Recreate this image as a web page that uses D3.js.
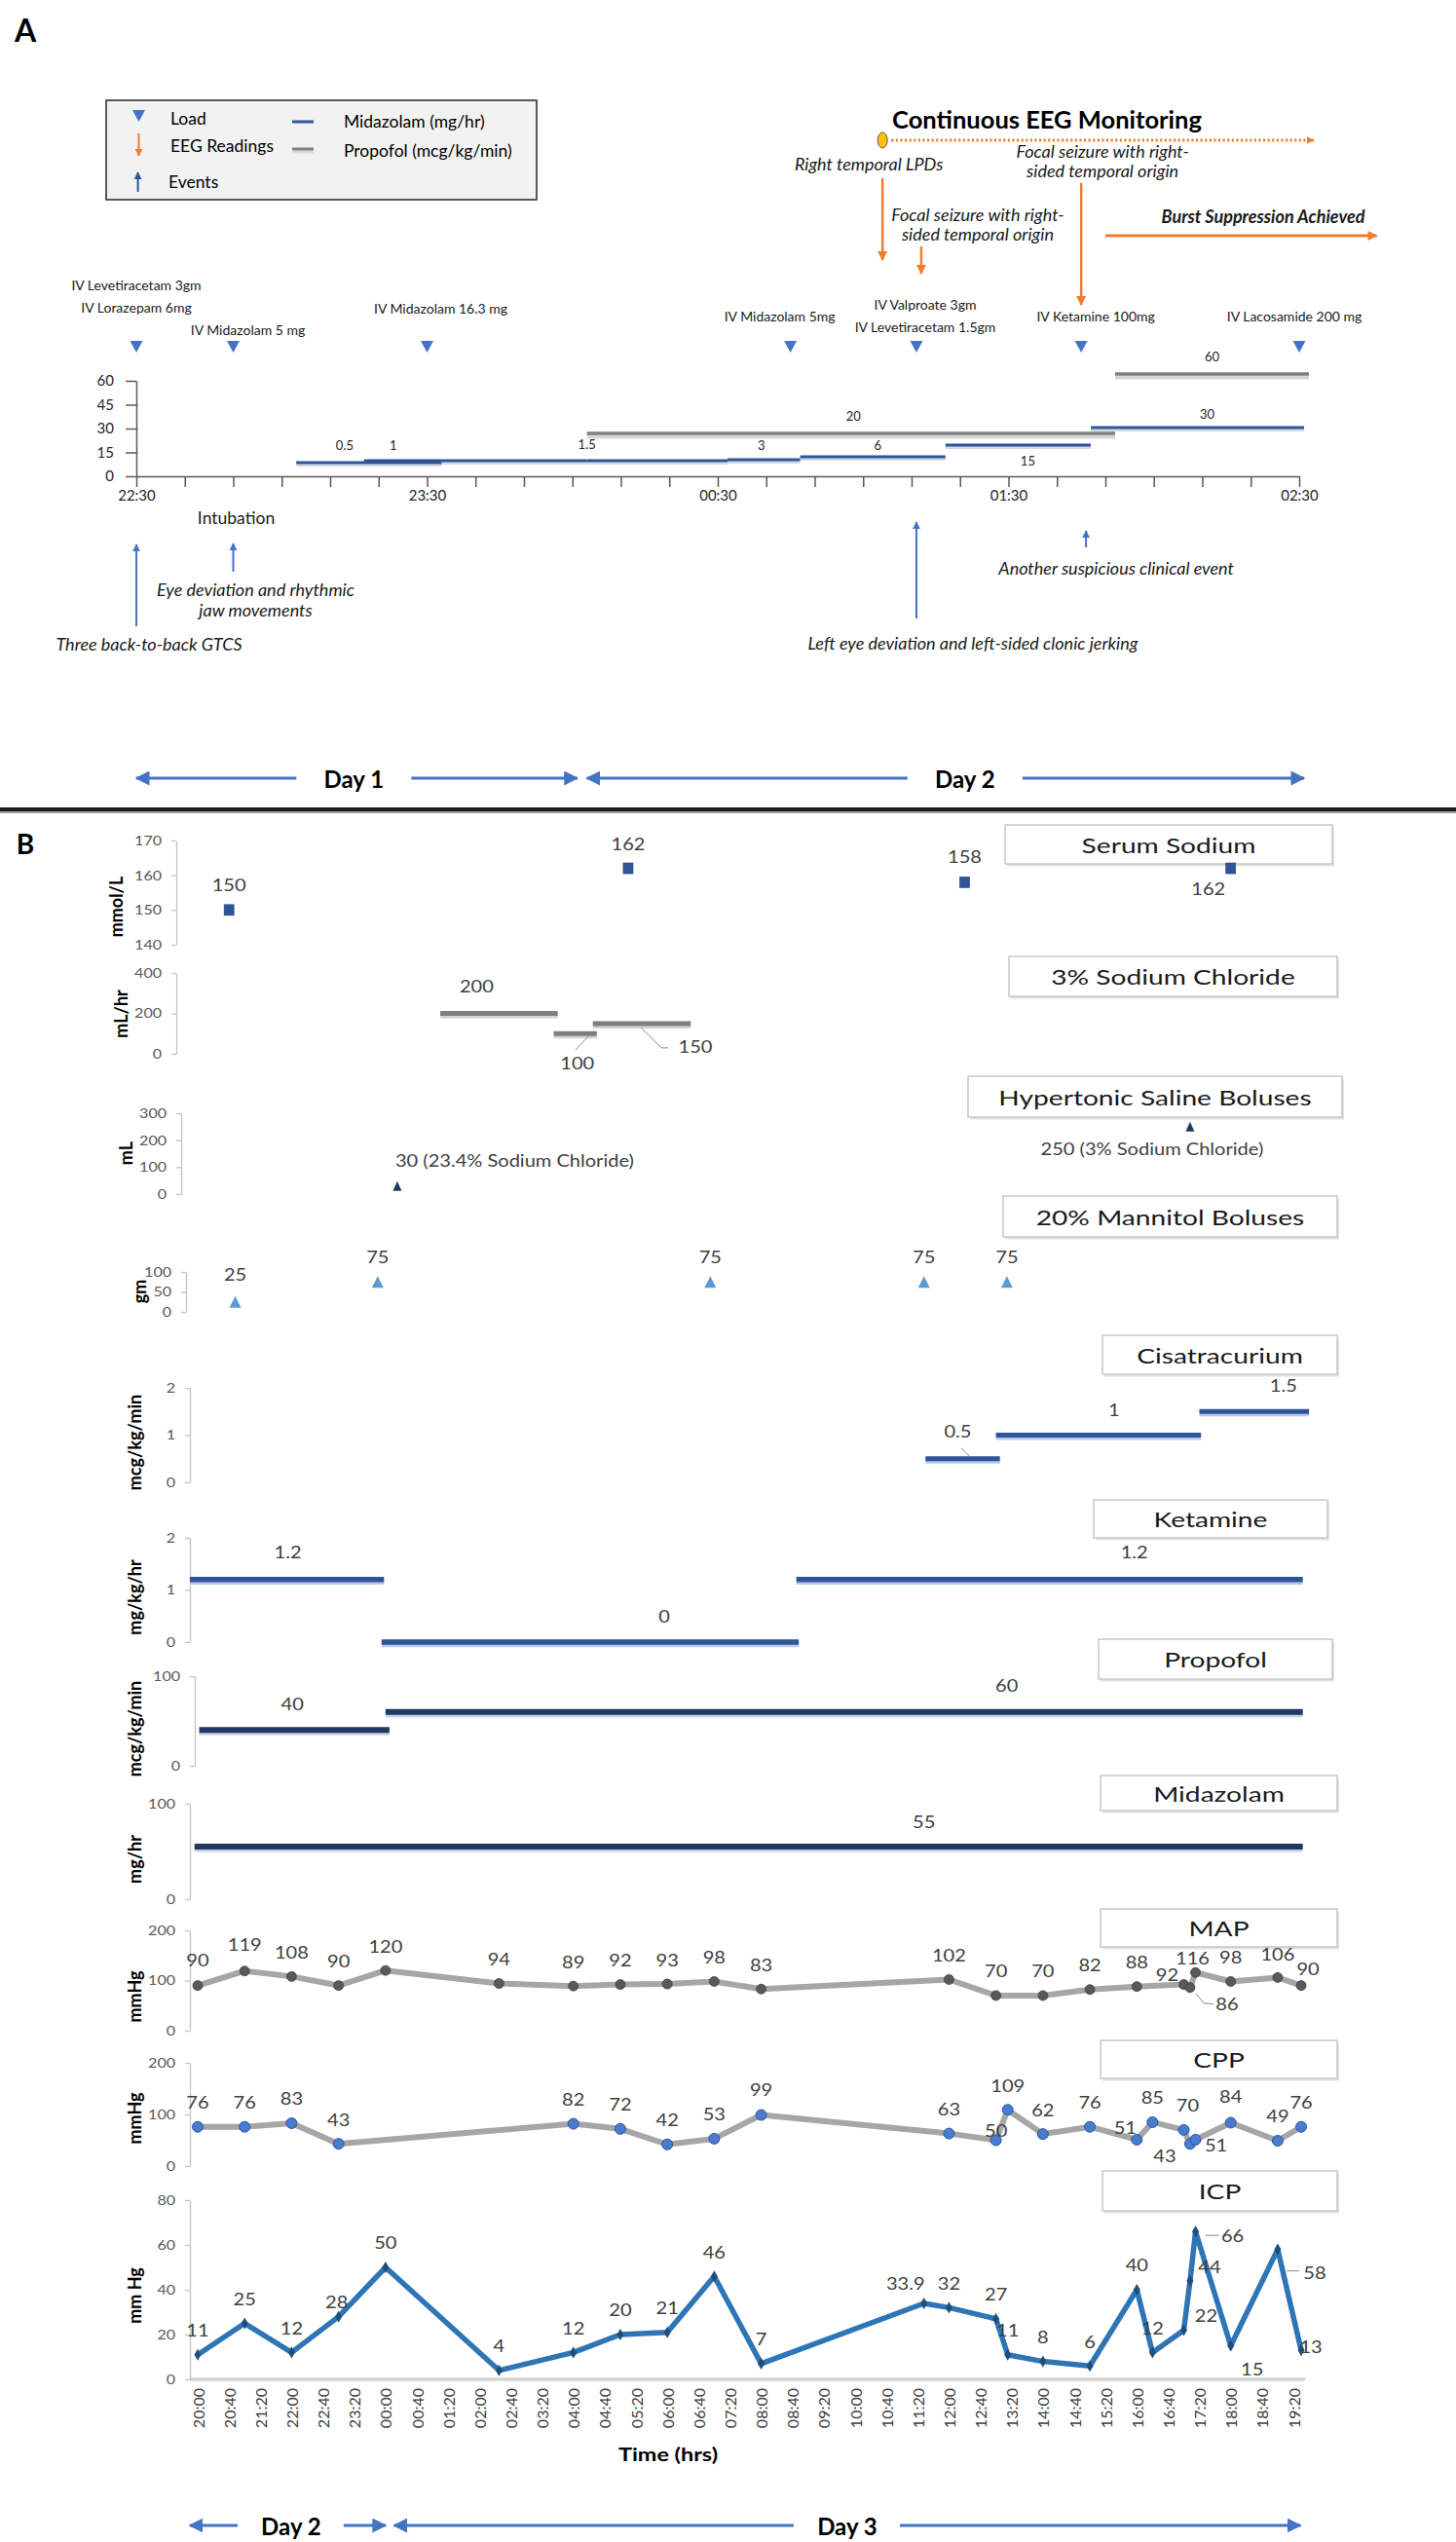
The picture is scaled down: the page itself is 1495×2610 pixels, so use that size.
<!DOCTYPE html>
<html>
<head>
<meta charset="utf-8">
<script src="https://cdn.jsdelivr.net/npm/d3@7/dist/d3.min.js"></script>
<style>
html,body{margin:0;padding:0;background:#fff;}
svg{display:block;}
</style>
</head>
<body>
<script>
// ================= PANEL A DATA =================
const axisALabels = ["22:30","23:30","00:30","01:30","02:30"];
const axisAYTicks = [0,15,30,45,60];

const loadTimes  = ["1 22:30","1 22:50","1 23:30","2 00:45","2 01:11","2 01:45","2 02:30"];
const loadLabels = [["IV Levetiracetam 3gm","IV Lorazepam 6mg"],["IV Midazolam 5 mg"],["IV Midazolam 16.3 mg"],
                    ["IV Midazolam 5mg"],["IV Valproate 3gm","IV Levetiracetam 1.5gm"],["IV Ketamine 100mg"],["IV Lacosamide 200 mg"]];

const midazAStart = ["1 23:03","1 23:17","2 00:03","2 00:32","2 00:47","2 01:17","2 01:47"];
const midazAEnd   = ["1 23:33","2 00:03","2 00:32","2 00:47","2 01:17","2 01:47","2 02:31"];
const midazARate  = [0.5,1,1.5,3,6,15,30];
const midazALevel = [8.6,9.8,9.8,10.4,12.2,19.6,30.6];   // plotted height read on the 0-60 axis

const propAStart = ["2 00:03","2 01:52"];
const propAEnd   = ["2 01:52","2 02:32"];
const propARate  = [20,60];
const propALevel = [26.9,64.3];

const eegStart = "2 01:04";
const eegEnd   = "2 02:33";
const eegTimes = ["2 01:04","2 01:12","2 01:45"];
const eegTexts = [["Right temporal LPDs"],["Focal seizure with right-","sided temporal origin"],["Focal seizure with right-","sided temporal origin"]];
const burstStart = "2 01:50", burstEnd = "2 02:46";

const eventTimes = ["1 22:30","1 22:50","2 01:11","2 01:46"];
const eventTexts = [["Three back-to-back GTCS"],["Eye deviation and rhythmic","jaw movements"],
                    ["Left eye deviation and left-sided clonic jerking"],["Another suspicious clinical event"]];
const intubationTime = "1 22:50";

const daysA = ["Day 1","Day 2"];
const daysAStart = ["1 22:30","2 00:03"];
const daysAEnd   = ["2 00:01","2 02:31"];

// ================= PANEL B DATA =================
const axisBLabels = ["20:00","20:40","21:20","22:00","22:40","23:20","00:00","00:40","01:20","02:00","02:40","03:20",
  "04:00","04:40","05:20","06:00","06:40","07:20","08:00","08:40","09:20","10:00","10:40","11:20","12:00","12:40",
  "13:20","14:00","14:40","15:20","16:00","16:40","17:20","18:00","18:40","19:20"];

const panelNames = ["Serum Sodium","3% Sodium Chloride","Hypertonic Saline Boluses","20% Mannitol Boluses",
                    "Cisatracurium","Ketamine","Propofol","Midazolam","MAP","CPP","ICP"];
const panelUnits = ["mmol/L","mL/hr","mL","gm","mcg/kg/min","mg/kg/hr","mcg/kg/min","mg/hr","mmHg","mmHg","mm Hg"];

const sodiumTimes  = ["2 20:40","3 05:10","3 12:20","3 18:00"];
const sodiumValues = [150,162,158,162];

const naclStart  = ["3 01:10","3 03:35","3 04:25"];
const naclEnd    = ["3 03:40","3 04:30","3 06:30"];
const naclValues = [200,100,150];

const hyperTimes  = ["3 00:15","3 17:08"];
const hyperValues = [30,250];
const hyperLabels = ["30 (23.4% Sodium Chloride)","250 (3% Sodium Chloride)"];

const mannitolTimes  = ["2 20:48","2 23:50","3 06:55","3 11:28","3 13:14"];
const mannitolValues = [25,75,75,75,75];

const cisStart  = ["3 11:30","3 13:00","3 17:20"];
const cisEnd    = ["3 13:05","3 17:22","3 19:40"];
const cisValues = [0.5,1,1.5];

const ketStart  = ["2 19:50","2 23:55","3 08:45"];
const ketEnd    = ["2 23:58","3 08:48","3 19:32"];
const ketValues = [1.2,0,1.2];

const propBStart  = ["2 20:02","3 00:00"];
const propBEnd    = ["3 00:05","3 19:32"];
const propBValues = [40,60];

const midBStart  = ["2 19:56"];
const midBEnd    = ["3 19:32"];
const midBValues = [55];

const mapTimes = ["2 20:00","2 21:00","2 22:00","2 23:00","3 00:00","3 02:25","3 04:00","3 05:00","3 06:00","3 07:00",
  "3 08:00","3 12:00","3 13:00","3 14:00","3 15:00","3 16:00","3 17:00","3 17:08","3 17:15","3 18:00","3 19:00","3 19:30"];
const mapValues = [90,119,108,90,120,94,89,92,93,98,83,102,70,70,82,88,92,86,116,98,106,90];

const cppTimes = ["2 20:00","2 21:00","2 22:00","2 23:00","3 04:00","3 05:00","3 06:00","3 07:00","3 08:00","3 12:00",
  "3 13:00","3 13:15","3 14:00","3 15:00","3 16:00","3 16:20","3 17:00","3 17:08","3 17:15","3 18:00","3 19:00","3 19:30"];
const cppValues = [76,76,83,43,82,72,42,53,99,63,50,109,62,76,51,85,70,43,51,84,49,76];

const icpTimes = ["2 20:00","2 21:00","2 22:00","2 23:00","3 00:00","3 02:25","3 04:00","3 05:00","3 06:00","3 07:00",
  "3 08:00","3 11:28","3 12:00","3 13:00","3 13:15","3 14:00","3 15:00","3 16:00","3 16:20","3 17:00","3 17:08",
  "3 17:15","3 18:00","3 19:00","3 19:30"];
const icpValues = [11,25,12,28,50,4,12,20,21,46,7,33.9,32,27,11,8,6,40,12,22,44,66,15,58,13];

const daysB = ["Day 2","Day 3"];
const daysBStart = ["2 19:50","3 00:11"];
const daysBEnd   = ["3 00:00","3 19:29"];

// ================= LAYOUT (not data) =================
const FONT = "Lato, 'Open Sans', 'DejaVu Sans', sans-serif";
const SXB = 1.28, SXD = 1.18;   // horizontal stretch of panel B text (figure is widened)

const loadLabelDx   = [0,15,14,-11,9,15,-5];
const loadLabelBase = [[298,321],[344],[322],[330],[318,341],[330],[330]];
const midazALabelAt = ["1 23:13","1 23:23","2 00:03","2 00:39","2 01:03","2 01:34","2 02:11"];
const midazALabelDy = [-18,-16,-17,-15,-12,16,-14];
const propALabelAt  = ["2 00:58","2 02:12"];
const propALabelDy  = [-18,-18];
const eegArrowY     = [[183,267],[253,281],[188,313]];
const eegLabelDx    = [-14,58,22];
const eegLabelBase  = [[175],[227,247],[162,182]];
const eventArrowY   = [[643,559],[587,558],[635,536],[562,545]];
const eventLabelDx  = [13,23,58,31];
const eventLabelBase= [[668],[612,633],[667],[590]];

const boxes = [[1032,847,1368,887],[1036,982,1373,1023],[994,1105,1378,1147],[1030,1228,1373,1270],
  [1132,1371,1373,1411],[1123,1540,1363,1579],[1128,1683,1368,1724],[1130,1823,1373,1859],
  [1130,1960,1373,1999],[1130,2095,1373,2134],[1132,2229,1373,2270]];
const unitPos = [[119,931],[124,1041],[129,1184],[143,1326],[138,1481],[138,1640],[138,1775],[138,1909],[138,2050],[138,2175],[138,2357]];

// ================= HELPERS =================
function tA(s){ const [d,hm]=s.split(' '); const [h,m]=hm.split(':').map(Number); return (+d-1)*1440+h*60+m-(22*60+30); }
function tB(s){ const [d,hm]=s.split(' '); const [h,m]=hm.split(':').map(Number); return (+d-2)*1440+h*60+m-(20*60); }

const svg = d3.select('body').append('svg').attr('width',1495).attr('height',2610).attr('font-family',FONT);
const defs = svg.append('defs');
function marker(id,color,len,wid){
  defs.append('marker').attr('id',id).attr('viewBox','0 0 10 10').attr('refX',9).attr('refY',5)
    .attr('markerWidth',len).attr('markerHeight',wid).attr('markerUnits','userSpaceOnUse')
    .attr('orient','auto-start-reverse')
    .append('path').attr('d','M0,0L10,5L0,10Z').attr('fill',color);
}
marker('aOr','#ed7d31',11,10);
marker('aOrS','#ed7d31',8,8);
marker('aBl','#4472c4',8,9);
marker('aNv','#2f5597',8,9);
marker('aDay','#4472c4',15,15);

function txt(g,x,y,s,o={}){
  let tr=`translate(${x},${y})`;
  if(o.sx) tr+=` scale(${o.sx},1)`;
  if(o.rot) tr+=` rotate(${o.rot})`;
  return g.append('text').attr('transform',tr)
    .attr('text-anchor',o.anchor||'middle')
    .attr('dominant-baseline',o.base||'central')
    .style('font-size',(o.size||15)+'px')
    .style('font-weight',o.weight||'normal')
    .style('font-style',o.style||'normal')
    .attr('fill',o.fill||'#000')
    .text(s);
}
function line(g,x1,y1,x2,y2,stroke,w){
  return g.append('line').attr('x1',x1).attr('y1',y1).attr('x2',x2).attr('y2',y2)
    .attr('stroke',stroke).attr('stroke-width',w);
}
const triDown=(x,y,w,h)=>`M${x-w/2},${y-h/2}L${x+w/2},${y-h/2}L${x},${y+h/2}Z`;
const triUp  =(x,y,w,h)=>`M${x-w/2},${y+h/2}L${x+w/2},${y+h/2}L${x},${y-h/2}Z`;

// ================= PANEL A =================
const xA = d3.scaleLinear().domain([0,240]).range([140,1334]);
const yA = d3.scaleLinear().domain([0,60]).range([489,391]);
const gA = svg.append('g');

txt(gA,26,30,'A',{size:32,weight:'bold'});

// legend
gA.append('rect').attr('x',109).attr('y',103).attr('width',442).attr('height',102)
  .attr('fill','#f2f2f2').attr('stroke','#262626').attr('stroke-width',1.5);
gA.append('path').attr('d',triDown(142.5,119,13,12)).attr('fill','#4472c4');
txt(gA,175,121,'Load',{anchor:'start',size:17.5});
line(gA,142.5,137,142.5,160,'#ed7d31',2).attr('marker-end','url(#aOrS)');
txt(gA,175,149,'EEG Readings',{anchor:'start',size:17.5});
line(gA,141.6,197,141.6,177,'#2f5597',2).attr('marker-end','url(#aNv)');
txt(gA,173,186,'Events',{anchor:'start',size:17.5});
line(gA,300,125,322,125,'#2f5597',3);
txt(gA,353,124,'Midazolam (mg/hr)',{anchor:'start',size:17.5});
line(gA,300,156,322,156,'#dadada',3);
line(gA,300,153,322,153,'#808080',3);
txt(gA,353,154,'Propofol (mcg/kg/min)',{anchor:'start',size:17.5});

// axes
const axX = gA.append('g').attr('transform','translate(0,489)')
  .call(d3.axisBottom(xA).tickValues(d3.range(0,241,10)).tickSize(11).tickSizeOuter(0).tickPadding(3)
    .tickFormat(m => m%60===0 ? axisALabels[m/60] : ''));
const axY = gA.append('g').attr('transform','translate(140,0)')
  .call(d3.axisLeft(yA).tickValues(axisAYTicks).tickSize(11).tickSizeOuter(0).tickPadding(12));
[axX,axY].forEach(a=>{
  a.attr('font-family',FONT);
  a.selectAll('path,line').attr('stroke','#595959').attr('stroke-width',1.5);
  a.selectAll('text').attr('fill','#262626').style('font-size','15px');
});

// infusion segments
const midA = midazARate.map((r,i)=>({x1:xA(tA(midazAStart[i])),x2:xA(tA(midazAEnd[i])),y:yA(midazALevel[i]),r,
  lx:xA(tA(midazALabelAt[i])),dy:midazALabelDy[i]}));
const propA = propARate.map((r,i)=>({x1:xA(tA(propAStart[i])),x2:xA(tA(propAEnd[i])),y:yA(propALevel[i]),r,
  lx:xA(tA(propALabelAt[i])),dy:propALabelDy[i]}));
gA.selectAll('.pAsh').data(propA).join('line').attr('x1',d=>d.x1).attr('x2',d=>d.x2)
  .attr('y1',d=>d.y+3.5).attr('y2',d=>d.y+3.5).attr('stroke','#d6d6d6').attr('stroke-width',4);
gA.selectAll('.pA').data(propA).join('line').attr('x1',d=>d.x1).attr('x2',d=>d.x2)
  .attr('y1',d=>d.y).attr('y2',d=>d.y).attr('stroke','#7f7f7f').attr('stroke-width',3.5);
gA.selectAll('.mAsh').data(midA).join('line').attr('x1',d=>d.x1).attr('x2',d=>d.x2)
  .attr('y1',d=>d.y+2.5).attr('y2',d=>d.y+2.5).attr('stroke','#d3d9e4').attr('stroke-width',3);
gA.selectAll('.mA').data(midA).join('line').attr('x1',d=>d.x1).attr('x2',d=>d.x2)
  .attr('y1',d=>d.y).attr('y2',d=>d.y).attr('stroke','#2f5597').attr('stroke-width',3);
midA.concat(propA).forEach(d=>txt(gA,d.lx,d.y+d.dy,String(d.r),{size:13,fill:'#262626'}));

// loads
loadTimes.forEach((t,i)=>{
  const x=xA(tA(t));
  gA.append('path').attr('d',triDown(x,356,13,12)).attr('fill','#4472c4');
  loadLabels[i].forEach((s,j)=>txt(gA,x+loadLabelDx[i],loadLabelBase[i][j],s,{size:14,base:'alphabetic',fill:'#1a1a1a'}));
});

// EEG monitoring
const eX1=xA(tA(eegStart)), eX2=xA(tA(eegEnd));
line(gA,eX1+9,144,eX2,144,'#ed7d31',3).attr('stroke-dasharray','2.2,2.4').attr('marker-end','url(#aOrS)');
gA.append('ellipse').attr('cx',eX1).attr('cy',144).attr('rx',5).attr('ry',8).attr('fill','#ffc000').attr('stroke','#5a5a5a').attr('stroke-width',1);
txt(gA,1075,132,'Continuous EEG Monitoring',{size:25.5,weight:'bold',base:'alphabetic'});
eegTimes.forEach((t,i)=>{
  const x=xA(tA(t));
  line(gA,x,eegArrowY[i][0],x,eegArrowY[i][1],'#ed7d31',2.5).attr('marker-end','url(#aOr)');
  eegTexts[i].forEach((s,j)=>txt(gA,x+eegLabelDx[i],eegLabelBase[i][j],s,{size:18,style:'italic',base:'alphabetic',fill:'#1a1a1a'}));
});
line(gA,xA(tA(burstStart)),242,xA(tA(burstEnd)),242,'#ed7d31',3).attr('marker-end','url(#aOr)');
txt(gA,1297,229,'Burst Suppression Achieved',{size:18,weight:'bold',style:'italic',base:'alphabetic',fill:'#1a1a1a'});

// events
eventTimes.forEach((t,i)=>{
  const x=xA(tA(t));
  line(gA,x,eventArrowY[i][0],x,eventArrowY[i][1],'#4472c4',2).attr('marker-end','url(#aBl)');
  eventTexts[i].forEach((s,j)=>txt(gA,x+eventLabelDx[i],eventLabelBase[i][j],s,{size:18,style:'italic',base:'alphabetic',fill:'#1a1a1a'}));
});
txt(gA,xA(tA(intubationTime))+3,538,'Intubation',{size:17.5,base:'alphabetic',fill:'#1a1a1a'});

// day arrows
function dayArrow(g,x1,x2,y,c,label,gl,gr){
  line(g,x1,y,c-gl,y,'#4472c4',3).attr('marker-start','url(#aDay)');
  line(g,c+gr,y,x2,y,'#4472c4',3).attr('marker-end','url(#aDay)');
  txt(g,c,y,label,{size:24,weight:'bold'});
}
const dayADx=[-3,20];
daysA.forEach((d,i)=>{
  const x1=xA(tA(daysAStart[i])), x2=xA(tA(daysAEnd[i]));
  dayArrow(gA,x1,x2,799,(x1+x2)/2+dayADx[i],d,59,59);
});

// separator
line(svg,0,834,1495,834,'#9c9c9c',2);
line(svg,0,831,1495,831,'#1c1c1c',4);

// ================= PANEL B =================
const xB = d3.scaleLinear().domain([0,1400]).range([203,1328]);
const gB = svg.append('g');
txt(gB,26,866,'B',{size:28,weight:'bold'});

const yS = [
  d3.scaleLinear().domain([140,170]).range([970,863]),
  d3.scaleLinear().domain([0,400]).range([1082,999]),
  d3.scaleLinear().domain([0,300]).range([1226,1143]),
  d3.scaleLinear().domain([0,100]).range([1347,1306]),
  d3.scaleLinear().domain([0,2]).range([1522,1425]),
  d3.scaleLinear().domain([0,2]).range([1686,1579]),
  d3.scaleLinear().domain([0,100]).range([1813,1721]),
  d3.scaleLinear().domain([0,100]).range([1950,1852]),
  d3.scaleLinear().domain([0,200]).range([2085,1982]),
  d3.scaleLinear().domain([0,200]).range([2224,2118]),
  d3.scaleLinear().domain([0,80]).range([2443,2259])
];
const yTicks = [[140,150,160,170],[0,200,400],[0,100,200,300],[0,50,100],[0,1,2],[0,1,2],[0,100],[0,100],[0,100,200],[0,100,200],[0,20,40,60,80]];
const axisXs = [181,181,186,191,195,195,200,195,195,195,195];

// x axis (bottom)
line(gB,195,2443,1340,2443,'#d4d4d4',3.5);
axisBLabels.forEach((s,i)=>{
  txt(gB,xB(i*40),2452,s,{size:16,rot:-90,anchor:'end',fill:'#404040'});
});
txt(gB,686,2520,'Time (hrs)',{size:18,weight:'bold',sx:1.3});

// y axes, unit labels, title boxes
yS.forEach((sc,i)=>{
  const a = gB.append('g').attr('transform',`translate(${axisXs[i]},0)`)
    .call(d3.axisLeft(sc).tickValues(yTicks[i]).tickSize(5).tickSizeOuter(0).tickPadding(8).tickFormat(d=>String(d)));
  a.attr('font-family',FONT);
  a.select('.domain').attr('stroke','#c4c4c4').attr('stroke-width',1.3);
  a.selectAll('.tick line').attr('stroke','#c4c4c4').attr('stroke-width',1.3);
  a.selectAll('.tick text').attr('fill','#595959').style('font-size','14px').attr('transform','scale(1.15,1)');
  txt(gB,unitPos[i][0],unitPos[i][1],panelUnits[i],{size:18,weight:'bold',rot:-90});
  const b=boxes[i];
  gB.append('rect').attr('x',b[0]+2).attr('y',b[1]+2.5).attr('width',b[2]-b[0]).attr('height',b[3]-b[1]).attr('fill','#e3e3e3');
  gB.append('rect').attr('x',b[0]).attr('y',b[1]).attr('width',b[2]-b[0]).attr('height',b[3]-b[1])
    .attr('fill','#fff').attr('stroke','#c8c8c8').attr('stroke-width',1.5);
  txt(gB,(b[0]+b[2])/2,(b[1]+b[3])/2,panelNames[i],{size:22,sx:SXB,fill:'#1a1a1a'});
});

function dlabel(x,y,s,o={}){ return txt(gB,x,y,s,Object.assign({size:17,sx:SXD,fill:'#404040'},o)); }
function leader(x,y,pts){
  gB.append('path').attr('d',d3.line()(pts.map(p=>[x+p[0],y+p[1]]))).attr('fill','none').attr('stroke','#8c8c8c').attr('stroke-width',1);
}

// Serum sodium
const sodiumLay=[[0,-26],[0,-25],[0,-26],[-23,21]];
sodiumTimes.forEach((t,i)=>{
  const x=xB(tB(t)), y=yS[0](sodiumValues[i]);
  gB.append('rect').attr('x',x-5).attr('y',y-5.5).attr('width',10).attr('height',11).attr('fill','#2f5597').attr('stroke','#1f3d7a').attr('stroke-width',0.6);
  dlabel(x+sodiumLay[i][0],y+sodiumLay[i][1],String(sodiumValues[i]));
});

// generic segment drawer
function segs(starts,ends,vals,sc,color,w,under){
  return vals.map((v,i)=>{
    const x1=xB(tB(starts[i])), x2=xB(tB(ends[i])), y=sc(v);
    line(gB,x1,y+1.5,x2,y+1.5,under,w+2);
    line(gB,x1,y,x2,y,color,w);
    return {x1,x2,y,mid:(x1+x2)/2,v};
  });
}

// 3% NaCl
const naclLay=[[-23,-28],[2,30],[55,24]];
const naclLead={1:[[14,2],[0,17]],2:[[-1,4],[20,25],[27,25]]};
segs(naclStart,naclEnd,naclValues,yS[1],'#7f7f7f',5,'#d2d2d2').forEach((d,i)=>{
  dlabel(d.mid+naclLay[i][0],d.y+naclLay[i][1],String(d.v));
  if(naclLead[i]) leader(d.mid,d.y,naclLead[i]);
});

// hypertonic boluses
hyperTimes.forEach((t,i)=>{
  const x=xB(tB(t)), y=yS[2](hyperValues[i]);
  gB.append('path').attr('d',triUp(x,y,9,10)).attr('fill','#1f3864');
});
{
  const x0=xB(tB(hyperTimes[0])), y0=yS[2](hyperValues[0]);
  dlabel(x0-2,y0-26,hyperLabels[0],{anchor:'start'});
  const x1=xB(tB(hyperTimes[1])), y1=yS[2](hyperValues[1]);
  dlabel(x1-39,y1+23,hyperLabels[1]);
}

// mannitol
mannitolTimes.forEach((t,i)=>{
  const x=xB(tB(t)), y=yS[3](mannitolValues[i]);
  gB.append('path').attr('d',triUp(x,y,12,12)).attr('fill','#5b9bd5');
  dlabel(x,y+(i===0?-28:-26),String(mannitolValues[i]));
});

// cisatracurium
const cisLay=[[-5,-28],[16,-26],[30,-27]];
segs(cisStart,cisEnd,cisValues,yS[4],'#2f5597',5,'#b7c8e6').forEach((d,i)=>{
  dlabel(d.mid+cisLay[i][0],d.y+cisLay[i][1],String(d.v));
  if(i===0) leader(d.mid,d.y,[[-1.5,-11],[7.5,-2]]);
});

// ketamine
const ketLay=[[1,-28],[76,-26],[87,-28]];
segs(ketStart,ketEnd,ketValues,yS[5],'#2f5597',5.5,'#b7c8e6').forEach((d,i)=>{
  dlabel(d.mid+ketLay[i][0],d.y+ketLay[i][1],String(d.v));
});

// propofol
const propLay=[[-2,-27],[167,-27]];
segs(propBStart,propBEnd,propBValues,yS[6],'#203864',6,'#c5cfe2').forEach((d,i)=>{
  dlabel(d.mid+propLay[i][0],d.y+propLay[i][1],String(d.v));
});

// midazolam
segs(midBStart,midBEnd,midBValues,yS[7],'#203864',6,'#c5cfe2').forEach((d)=>{
  dlabel(d.mid+180,d.y-26,String(d.v));
});

// line series
function series(times,vals,sc,lineColor,lw,drawMarker,lay,leads){
  const pts=times.map((t,i)=>[xB(tB(t)),sc(vals[i])]);
  gB.append('path').attr('d',d3.line()(pts)).attr('fill','none').attr('stroke',lineColor)
    .attr('stroke-width',lw).attr('stroke-linejoin','round').attr('stroke-linecap','round');
  pts.forEach((p,i)=>drawMarker(p[0],p[1]));
  pts.forEach((p,i)=>{
    const o=lay[i]||[0,-25];
    if(leads[i]) leader(p[0],p[1],leads[i]);
    dlabel(p[0]+o[0],p[1]+o[1],String(vals[i]));
  });
}
series(mapTimes,mapValues,yS[8],'#a6a6a6',6,
  (x,y)=>gB.append('circle').attr('cx',x).attr('cy',y).attr('r',5).attr('fill','#595959').attr('stroke','#404040').attr('stroke-width',0.8),
  {0:[0,-26],1:[0,-27],16:[-17,-10],17:[38,17],18:[-3,-15],19:[0,-25],20:[0,-24],21:[7,-17]},
  {17:[[6,6],[14,16],[24,17]]});
series(cppTimes,cppValues,yS[9],'#a6a6a6',6,
  (x,y)=>gB.append('circle').attr('cx',x).attr('cy',y).attr('r',5.5).attr('fill','#4a7bd0').attr('stroke','#2f5597').attr('stroke-width',1),
  {8:[0,-26],10:[0,-10],14:[-12,-12],16:[4,-25],17:[-26,12],18:[21,6],19:[0,-27]},
  {});
series(icpTimes,icpValues,yS[10],'#2e75b6',5.5,
  (x,y)=>gB.append('path').attr('transform',`translate(${x},${y})`).attr('d',d3.symbol(d3.symbolDiamond,42)()).attr('fill','#1f4e79'),
  {3:[-2,-15],11:[-19,-20],19:[23,-15],20:[20,-14],21:[38,4],22:[22,24],23:[38,24],24:[10,-4]},
  {21:[[10,4],[24,4]],23:[[9,22],[22,22]]});

// day arrows
const dayBDx=[3.5,0];
daysB.forEach((d,i)=>{
  const x1=xB(tB(daysBStart[i])), x2=xB(tB(daysBEnd[i]));
  dayArrow(gB,x1,x2,2593,(x1+x2)/2+dayBDx[i],d,55,54);
});
</script>
</body>
</html>
